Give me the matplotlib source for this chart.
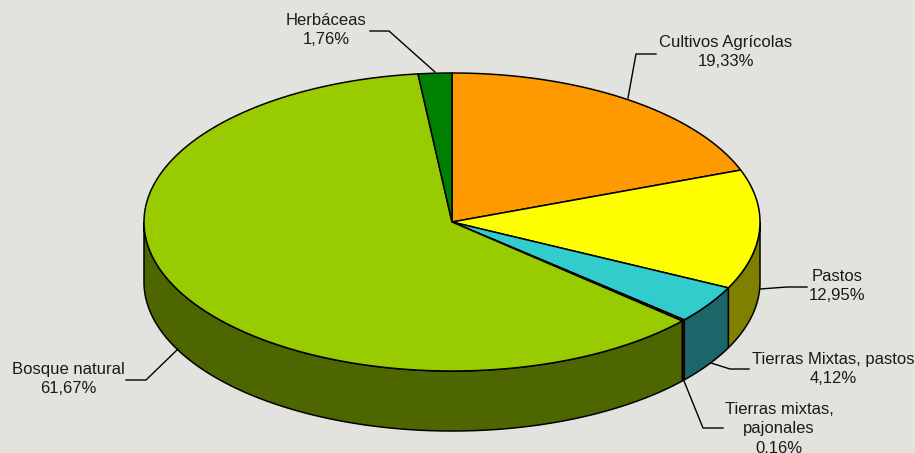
import numpy as np
import matplotlib
matplotlib.use('Agg')
import matplotlib.pyplot as plt
from matplotlib.patches import Polygon

categories = ['Cultivos Agrícolas', 'Pastos', 'Tierras Mixtas, pastos',
              'Tierras mixtas,\npajonales', 'Bosque natural', 'Herbáceas']
values = [19.33, 12.95, 4.12, 0.16, 61.67, 1.76]
value_labels = ['19,33%', '12,95%', '4,12%', '0,16%', '61,67%', '1,76%']
top_colors = ['#FF9900', '#FFFF00', '#33CCCC', '#993300', '#99CC00', '#008000']
side_colors = ['#804D00', '#808000', '#1A6669', '#7A0000', '#4D6600', '#004000']

# label centres, then leader polylines
label_pos = [(726, 52), (837, 286), (833, 369), (779, 429), (68, 379), (326, 30)]
leaders = [[(628, 98), (636, 54), (656, 54)],
           [(760, 289), (787, 287), (807, 287)],
           [(711, 363), (730, 369), (749, 369)],
           [(684, 381), (703, 428), (723, 428)],
           [(178, 349), (146, 380), (126, 380)],
           [(435, 72), (389, 31), (370, 31)]]

cx, cy = 452, 222
a, b = 308, 149
depth = 60


def rim(t0, t1):
    t = np.radians(np.linspace(t0, t1, max(int(abs(t1 - t0) * 2), 2)))
    return cx + a * np.sin(t), cy - b * np.cos(t)


fig = plt.figure(figsize=(9.15, 4.53), dpi=100, facecolor='#E2E3DF')
ax = fig.add_axes([0, 0, 1, 1])
ax.set_xlim(0, 915)
ax.set_ylim(453, 0)
ax.axis('off')

edges = np.concatenate([[0], np.cumsum(values)]) * 360 / np.sum(values)

# side walls, only the front half of the pie shows them
for i in range(len(values)):
    t0, t1 = max(edges[i], 90), min(edges[i + 1], 270)
    if t1 <= t0:
        continue
    x, y = rim(t0, t1)
    pts = np.r_[np.c_[x, y], np.c_[x, y + depth][::-1]]
    ax.add_patch(Polygon(pts, closed=True, fc=side_colors[i], ec='black', lw=1.1, zorder=2))

# top face
for i in range(len(values)):
    x, y = rim(edges[i], edges[i + 1])
    pts = np.r_[[(cx, cy)], np.c_[x, y]]
    ax.add_patch(Polygon(pts, closed=True, fc=top_colors[i], ec='black', lw=1.1, zorder=3))

for line in leaders:
    xs, ys = zip(*line)
    ax.plot(xs, ys, color='black', lw=1.0, zorder=4)

for name, val, (lx, ly) in zip(categories, value_labels, label_pos):
    ax.text(lx, ly, name + '\n' + val, ha='center', va='center', fontsize=12,
            family='Liberation Sans', color='#1a1a1a', linespacing=1.38, zorder=5)

fig.savefig('out.png', dpi=100, facecolor=fig.get_facecolor())
